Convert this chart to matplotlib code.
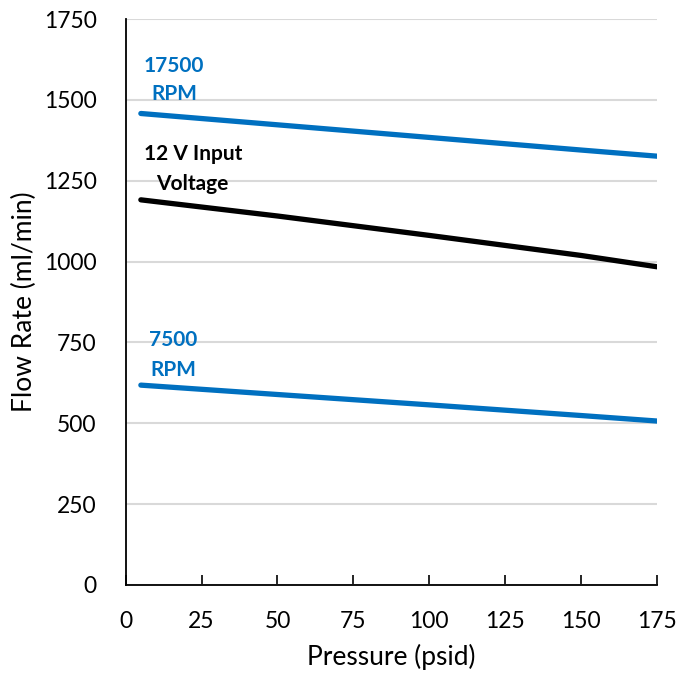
import matplotlib
matplotlib.use("Agg")
import matplotlib.pyplot as plt

# pressure (psid) vs flow rate (ml/min)
pressure = [5, 50, 100, 150, 175]
flow_17500 = [1458, 1423, 1384, 1345, 1326]
flow_12v = [1191, 1141, 1081, 1019, 984]
flow_7500 = [618, 589, 557, 524, 507]

x_ticks = [0, 25, 50, 75, 100, 125, 150, 175]
y_ticks = [0, 250, 500, 750, 1000, 1250, 1500, 1750]

blue = '#0070C0'

plt.rcParams['font.family'] = ['Lato', 'DejaVu Sans']

fig = plt.figure(figsize=(6.97, 6.81), dpi=100)
ax = fig.add_axes([0.1803, 0.141, 0.7623, 0.831])

ax.plot(pressure, flow_17500, color=blue, lw=3.8, solid_capstyle='round')
ax.plot(pressure, flow_12v, color='black', lw=3.8, solid_capstyle='round')
ax.plot(pressure, flow_7500, color=blue, lw=3.8, solid_capstyle='round')

# series labels
lab = dict(fontsize=15, fontweight='bold', ha='center', va='center')
ax.text(15.9, 1605, '17500', color=blue, **lab)
ax.text(15.9, 1518, 'RPM', color=blue, **lab)
ax.text(22.2, 1333, '12 V Input', color='black', **lab)
ax.text(21.8, 1240, 'Voltage', color='black', **lab)
ax.text(15.6, 758, '7500', color=blue, **lab)
ax.text(15.6, 665, 'RPM', color=blue, **lab)

ax.set_xlim(0, 175)
ax.set_ylim(0, 1750)
ax.set_xticks(x_ticks)
ax.set_yticks(y_ticks)
ax.tick_params(axis='x', direction='in', length=7, width=1.2, pad=19, labelsize=16.5)
ax.tick_params(axis='y', length=0, pad=21, labelsize=16.5)

ax.grid(axis='y', color='#d9d9d9', lw=1.5)
ax.set_axisbelow(True)
for s in ['top', 'right']:
	ax.spines[s].set_visible(False)
for s in ['left', 'bottom']:
	ax.spines[s].set_color('black')
	ax.spines[s].set_linewidth(1.3)

ax.set_xlabel('Pressure (psid)', fontsize=19, labelpad=8)
ax.set_ylabel('Flow Rate (ml/min)', fontsize=19, labelpad=5)

plt.savefig('out.png', dpi=100)
